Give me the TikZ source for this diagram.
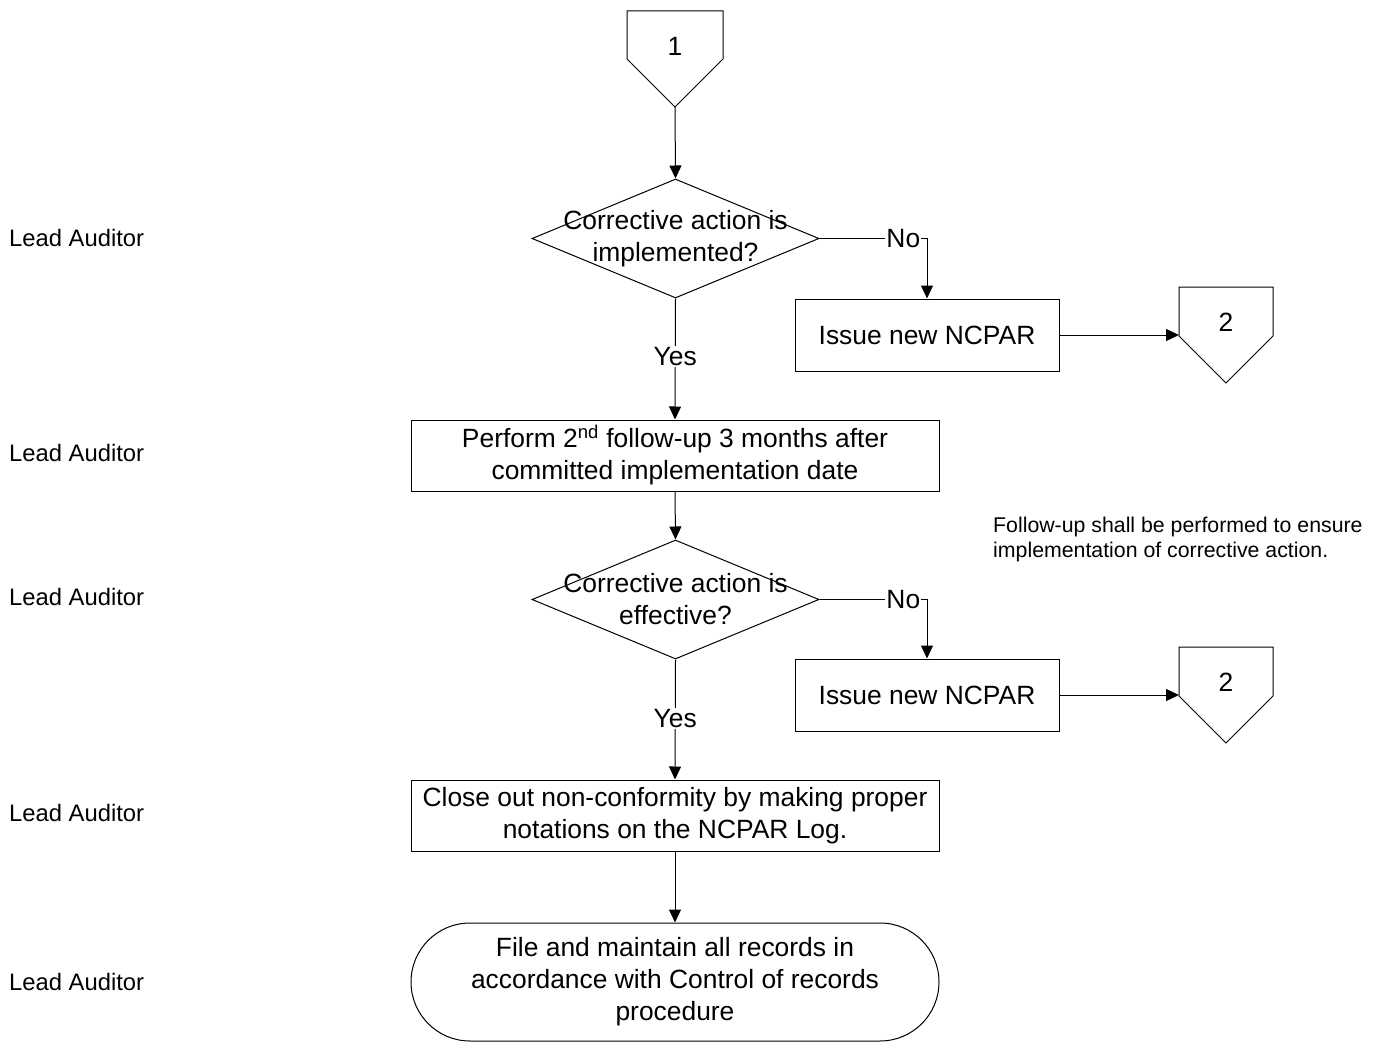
\documentclass[tikz,border=0pt]{standalone}
\usepackage{fontspec}
\setmainfont{Liberation Sans}
\usetikzlibrary{arrows.meta,shapes.geometric}
\begin{document}
\begin{tikzpicture}[x=1pt,y=-1pt,
  every node/.style={font=\fontsize{26.4}{32}\selectfont},
  line/.style={draw=black,line width=1pt},
  arr/.style={line,-{Triangle[length=13pt,width=12pt]}},
  procbox/.style={line,rectangle,inner sep=0pt,align=center},
  dia/.style={line,diamond,inner sep=0pt,minimum width=287pt,minimum height=119pt},
  termbox/.style={line,rectangle,rounded corners=59pt,inner sep=0pt,minimum width=528pt,minimum height=118pt,align=center},
  lane/.style={anchor=west,inner sep=0pt,font=\fontsize{23.8}{28}\selectfont},
  lbl/.style={fill=white,inner sep=1pt}
]
\useasboundingbox (0,0) rectangle (1381,1043);

% lane labels
\node[lane] (l1) at (9,238) {Lead Auditor};
\node[lane] (l2) at (9,453) {Lead Auditor};
\node[lane] (l3) at (9,597) {Lead Auditor};
\node[lane] (l4) at (9,813) {Lead Auditor};
\node[lane] (l5) at (9,982) {Lead Auditor};

% off-page connector 1
\draw[line] (627,11) -- (723,11) -- (723,59) -- (675,107) -- (627,59) -- cycle;
\node (c1) at (675,46) {1};
\coordinate (c1tip) at (675,107);

% off-page connectors 2
\draw[line] (1179,287) -- (1273,287) -- (1273,336) -- (1226,383) -- (1179,336) -- cycle;
\node (c2) at (1226,322) {2};
\coordinate (c2in) at (1179,335);
\draw[line] (1179,647) -- (1273,647) -- (1273,696) -- (1226,743) -- (1179,696) -- cycle;
\node (c3) at (1226,682) {2};
\coordinate (c3in) at (1179,695);

% decision 1
\node[dia] (d1) at (675.5,238.5) {};
\node[align=center,inner sep=0pt] (d1t) at (d1.center) {Corrective action is\\implemented?};

% issue new NCPAR 1
\node[procbox,minimum width=264pt,minimum height=72pt] (b1) at (927,335) {Issue new NCPAR};

% perform 2nd follow-up
\node[procbox,minimum width=528pt,minimum height=71pt] (p2) at (675,455.5) {Perform 2\textsuperscript{nd} follow-up 3 months after\\committed implementation date};

% decision 2
\node[dia] (d2) at (675.5,599.5) {};
\node[align=center,inner sep=0pt] (d2t) at (d2.center) {Corrective action is\\effective?};

% issue new NCPAR 2
\node[procbox,minimum width=264pt,minimum height=72pt] (b2) at (927,695) {Issue new NCPAR};

% close out
\node[procbox,minimum width=528pt,minimum height=71pt] (p3) at (675,815.5) {Close out non-conformity by making proper\\notations on the NCPAR Log.};

% terminator
\node[termbox] (t) at (675,982) {File and maintain all records in\\accordance with Control of records\\procedure};

% note
\node[anchor=west,align=left,inner sep=0pt,font=\fontsize{21.3}{25}\selectfont] (note) at (993,539.5) {Follow-up shall be performed to ensure\\implementation of corrective action.};

% connectors
\draw[arr] (c1tip) -- (d1.north);
\draw[arr] (d1.east) -| node[lbl,pos=0.39] {No} (b1.north);
\draw[arr] (b1.east) -- (c2in);
\draw[arr] (d1.south) -- node[lbl,pos=0.48] {Yes} (p2.north);
\draw[arr] (p2.south) -- (d2.north);
\draw[arr] (d2.east) -| node[lbl,pos=0.39] {No} (b2.north);
\draw[arr] (b2.east) -- (c3in);
\draw[arr] (d2.south) -- node[lbl,pos=0.49] {Yes} (p3.north);
\draw[arr] (p3.south) -- (t.north);
\end{tikzpicture}
\end{document}
